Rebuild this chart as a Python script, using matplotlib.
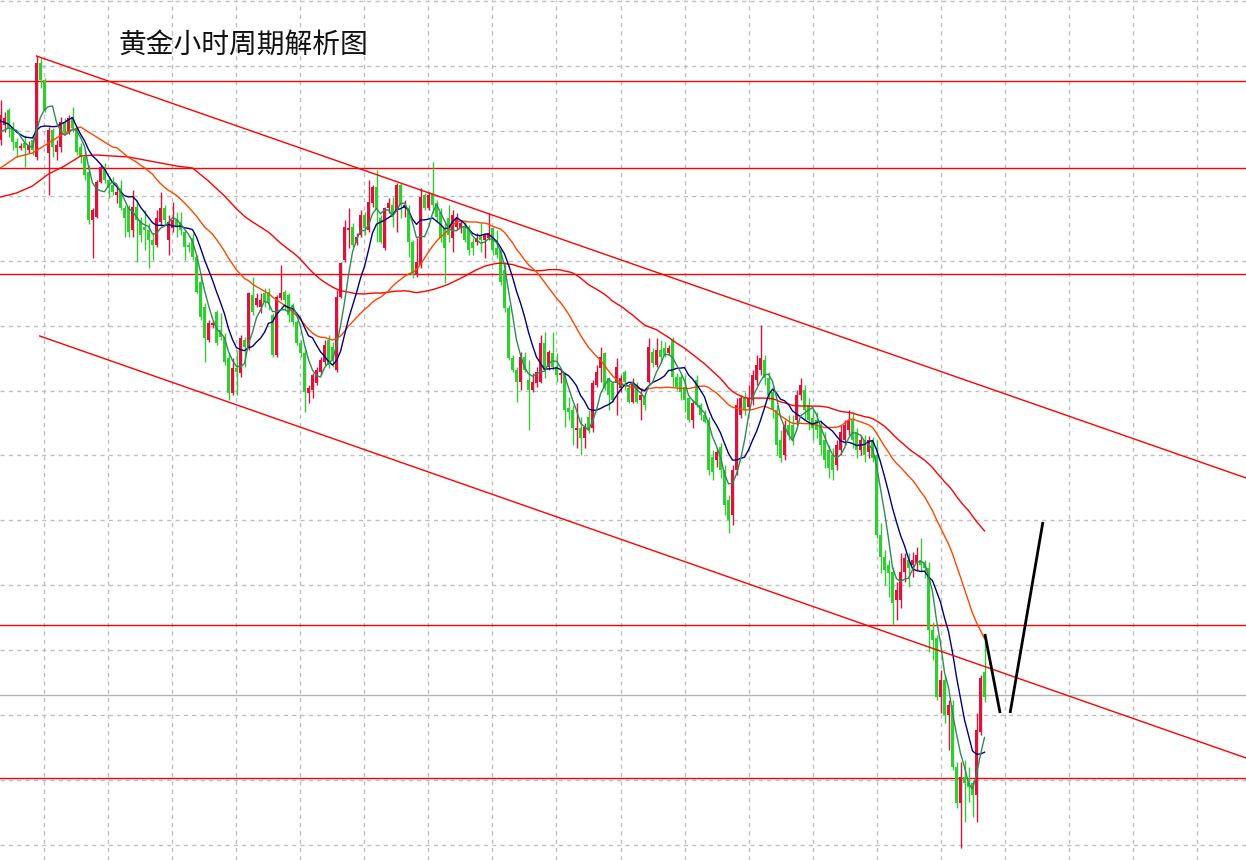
import numpy as np
import pandas as pd
import matplotlib
matplotlib.use("Agg")
import matplotlib.pyplot as plt

plt.rcParams['font.family'] = ['Noto Sans CJK SC', 'DejaVu Sans']

# ---------------- data (hourly gold candles) ----------------
opens = [
2686.0,2687.5,2689.0,2687.3,2685.8,2685.2,2685.7,2685.0,2686.0,2684.3,
2693.7,2692.0,2684.7,2687.0,2684.8,2685.3,2687.8,2686.8,2688.3,2687.2,
2685.3,2684.3,2682.8,2678.0,2678.3,2681.8,2683.3,2682.0,2681.5,2680.5,
2681.2,2679.2,2679.3,2677.0,2679.3,2678.0,2677.3,2677.0,2676.0,2675.5,
2677.8,2679.2,2676.0,2677.2,2678.0,2677.8,2676.8,2675.5,2676.2,2674.3,
2671.8,2669.3,2666.0,2667.5,2668.8,2667.0,2666.3,2664.2,2660.7,2663.2,
2662.7,2666.0,2665.3,2670.5,2669.5,2669.3,2670.7,2670.8,2668.5,2664.5,
2670.2,2670.8,2670.5,2669.2,2667.8,2665.7,2664.7,2660.7,2661.0,2661.7,
2662.8,2663.8,2666.0,2665.3,2663.0,2670.3,2674.0,2677.0,2677.3,2675.7,
2676.5,2678.5,2677.0,2679.7,2681.3,2678.2,2675.2,2679.2,2679.5,2678.8,
2681.5,2679.2,2679.2,2675.8,2672.5,2673.5,2680.5,2679.2,2680.7,2679.7,
2678.8,2677.2,2678.2,2676.2,2677.3,2677.2,2677.3,2677.3,2675.8,2675.8,
2676.5,2676.0,2676.2,2677.2,2675.2,2675.0,2673.0,2669.2,2664.2,2663.0,
2661.8,2664.3,2662.0,2661.0,2661.7,2661.8,2665.7,2663.3,2664.7,2663.3,
2662.5,2662.7,2659.2,2659.0,2657.0,2657.2,2656.2,2658.3,2657.2,2661.5,
2663.2,2664.7,2662.2,2661.7,2661.7,2661.2,2662.8,2661.2,2659.8,2661.5,
2660.0,2660.3,2661.8,2664.8,2663.5,2665.0,2665.2,2664.7,2666.0,2662.3,
2662.3,2661.3,2660.2,2658.0,2662.0,2659.5,2658.5,2658.0,2654.3,2654.0,
2655.3,2653.0,2650.0,2648.5,2653.0,2658.5,2660.2,2659.3,2660.0,2662.0,
2663.0,2664.0,2662.2,2660.8,2659.0,2656.0,2654.5,2657.5,2657.5,2658.0,
2660.5,2661.0,2659.5,2658.2,2658.0,2657.5,2656.0,2655.0,2654.5,2653.5,
2655.0,2656.0,2657.0,2658.0,2656.8,2655.0,2656.0,2654.8,2656.0,2654.5,
2646.5,2644.3,2643.5,2642.8,2640.0,2640.0,2642.8,2644.0,2643.5,2643.7,
2644.0,2643.7,2643.2,2637.0,2636.2,2630.3,2632.0,2628.5,2629.5,2623.3,
2619.7,2622.3,2621.8,2621.7,2620.5,2626.8,2632.8]
highs = [
2690.0,2688.8,2689.2,2687.8,2686.2,2685.7,2686.5,2685.9,2686.5,2694.4,
2694.2,2692.2,2687.3,2687.2,2686.0,2688.3,2688.2,2688.5,2689.3,2687.4,
2685.7,2685.0,2683.5,2679.2,2682.0,2683.5,2683.7,2682.4,2682.3,2681.3,
2682.0,2679.5,2679.5,2681.0,2680.0,2678.3,2679.0,2677.7,2676.7,2679.0,
2680.8,2679.5,2678.5,2679.8,2678.8,2678.8,2677.0,2675.8,2676.7,2674.5,
2672.5,2669.7,2668.0,2668.0,2669.0,2668.7,2666.7,2664.7,2664.2,2665.0,
2666.5,2666.3,2670.8,2672.3,2670.7,2670.7,2671.2,2671.2,2668.7,2670.5,
2673.5,2671.0,2670.7,2669.7,2668.0,2666.0,2665.3,2661.5,2662.7,2663.3,
2664.3,2666.0,2666.5,2665.8,2671.0,2673.8,2678.0,2679.2,2677.7,2676.7,
2679.0,2678.8,2682.0,2681.5,2683.0,2678.5,2679.3,2680.2,2680.3,2681.7,
2681.7,2680.0,2679.5,2676.0,2676.2,2681.2,2680.7,2680.8,2683.8,2680.0,
2679.2,2677.8,2679.5,2679.0,2678.7,2678.0,2677.8,2677.5,2676.2,2676.7,
2677.7,2676.7,2678.7,2677.3,2677.0,2675.2,2673.8,2669.5,2664.5,2663.3,
2664.8,2664.8,2664.0,2662.7,2663.3,2666.5,2666.8,2665.0,2666.8,2664.7,
2663.0,2662.8,2660.3,2659.5,2659.7,2658.3,2657.7,2659.0,2662.0,2663.5,
2665.3,2664.8,2662.3,2661.8,2664.2,2662.5,2663.0,2661.5,2662.2,2661.8,
2661.2,2660.7,2666.2,2665.2,2666.2,2666.0,2665.8,2665.5,2666.3,2662.7,
2662.5,2662.5,2660.3,2660.0,2662.5,2659.7,2659.0,2658.3,2655.0,2655.2,
2655.7,2653.5,2650.5,2653.5,2660.2,2660.5,2660.8,2661.5,2663.0,2664.5,
2667.5,2664.5,2662.8,2661.5,2659.5,2657.0,2658.0,2658.5,2658.5,2661.0,
2662.2,2661.5,2660.2,2659.0,2658.8,2658.0,2656.8,2655.5,2655.2,2656.0,
2657.5,2658.0,2659.0,2658.8,2657.2,2656.5,2656.5,2656.4,2656.3,2656.0,
2647.7,2645.0,2644.0,2643.3,2641.8,2644.7,2644.7,2644.7,2644.8,2645.3,
2646.2,2644.0,2643.8,2637.8,2636.5,2633.0,2632.5,2630.0,2630.0,2623.8,
2623.8,2624.0,2623.3,2622.0,2628.7,2632.5,2636.6]
lows = [
2685.5,2686.8,2686.3,2685.0,2684.3,2685.0,2683.3,2684.7,2684.5,2684.0,
2691.2,2688.8,2680.5,2684.3,2684.0,2684.8,2686.5,2686.6,2686.8,2684.5,
2683.7,2682.0,2677.6,2674.2,2678.2,2681.7,2681.7,2680.2,2680.5,2679.7,
2679.0,2676.3,2676.3,2676.3,2673.8,2675.8,2675.0,2673.2,2674.0,2675.3,
2677.4,2677.5,2674.5,2676.8,2676.3,2676.5,2674.0,2674.8,2674.0,2670.7,
2668.0,2663.8,2665.8,2667.2,2665.5,2666.0,2663.5,2660.0,2660.5,2660.5,
2662.3,2663.3,2665.0,2668.5,2669.3,2668.7,2669.3,2669.0,2664.3,2664.3,
2670.0,2669.0,2667.8,2667.5,2665.5,2664.3,2658.8,2659.7,2660.2,2661.5,
2662.5,2663.5,2663.2,2663.3,2662.8,2670.2,2673.8,2675.2,2675.3,2675.5,
2676.3,2676.5,2676.8,2679.3,2675.8,2675.7,2675.0,2678.7,2677.3,2676.8,
2678.2,2678.3,2674.3,2672.2,2672.3,2673.2,2679.0,2679.0,2678.7,2677.8,
2675.8,2671.7,2675.8,2674.8,2677.0,2676.7,2675.8,2674.5,2674.5,2675.5,
2674.8,2674.2,2676.0,2674.5,2674.2,2671.5,2668.8,2664.0,2662.8,2659.8,
2661.0,2662.8,2657.0,2660.8,2661.3,2661.7,2662.2,2663.0,2663.0,2661.8,
2661.7,2657.3,2658.0,2655.5,2655.2,2654.5,2655.2,2656.7,2656.8,2661.3,
2661.8,2661.0,2659.0,2659.8,2658.5,2660.8,2661.0,2659.7,2659.7,2659.7,
2658.0,2659.0,2661.7,2663.3,2663.3,2663.7,2664.3,2664.5,2661.3,2661.0,
2660.0,2658.8,2657.8,2657.2,2659.3,2658.0,2657.7,2652.5,2652.0,2653.3,
2652.2,2648.5,2646.7,2647.5,2652.5,2658.2,2658.5,2659.0,2659.5,2661.5,
2662.5,2661.5,2660.0,2658.2,2654.5,2653.8,2654.0,2656.0,2655.5,2657.5,
2660.0,2658.0,2657.0,2656.0,2656.2,2654.5,2653.2,2652.2,2652.0,2653.0,
2654.5,2655.5,2656.5,2655.2,2654.2,2654.5,2653.8,2654.2,2653.8,2646.2,
2642.7,2641.5,2640.3,2637.5,2638.0,2639.2,2641.8,2641.3,2642.3,2643.0,
2642.8,2642.2,2634.8,2634.0,2630.0,2628.7,2627.7,2625.0,2623.0,2619.2,
2615.2,2617.8,2619.8,2618.3,2617.8,2626.5,2629.8]
closes = [
2688.5,2688.2,2687.2,2685.8,2685.2,2685.4,2685.2,2685.5,2685.0,2693.7,
2692.0,2689.0,2687.0,2685.3,2685.5,2687.8,2686.8,2688.2,2687.2,2684.8,
2684.3,2682.5,2678.0,2679.0,2681.8,2683.3,2682.0,2681.2,2680.8,2680.8,
2679.2,2678.2,2676.8,2679.3,2678.0,2676.5,2677.0,2676.0,2675.5,2678.2,
2679.2,2678.0,2677.8,2678.0,2677.3,2677.0,2675.3,2675.3,2674.3,2670.8,
2668.3,2666.2,2667.7,2667.7,2665.7,2666.3,2663.8,2660.7,2663.2,2662.8,
2666.2,2665.3,2670.7,2668.8,2670.2,2670.0,2669.8,2669.7,2664.5,2670.3,
2670.7,2670.0,2668.5,2667.8,2665.7,2664.7,2660.8,2661.2,2662.5,2663.0,
2664.0,2665.5,2663.5,2664.0,2670.3,2673.7,2677.3,2677.2,2675.5,2676.3,
2678.5,2677.2,2679.8,2681.3,2679.0,2675.8,2679.2,2679.7,2678.3,2681.5,
2679.5,2679.5,2675.8,2672.5,2673.8,2680.3,2679.2,2680.5,2679.5,2678.3,
2676.2,2675.2,2676.5,2678.5,2678.2,2677.7,2676.0,2675.0,2675.2,2676.2,
2676.0,2676.5,2676.7,2675.0,2674.5,2671.8,2669.2,2664.2,2663.0,2661.8,
2664.3,2663.0,2661.0,2661.8,2662.8,2665.7,2663.0,2664.8,2663.3,2662.5,
2662.7,2659.0,2658.8,2657.2,2657.2,2656.2,2657.3,2657.0,2661.7,2662.8,
2664.3,2661.2,2660.5,2660.0,2663.3,2662.2,2661.8,2659.8,2661.7,2659.8,
2660.5,2659.5,2665.3,2663.7,2665.0,2664.3,2664.5,2665.2,2662.3,2661.3,
2660.8,2660.0,2658.0,2659.7,2659.5,2658.5,2657.8,2653.0,2652.8,2654.8,
2653.0,2649.5,2648.0,2653.0,2659.5,2660.2,2659.0,2660.2,2662.5,2663.5,
2664.2,2662.2,2660.5,2659.0,2655.5,2654.2,2657.5,2656.5,2656.0,2660.5,
2661.5,2659.0,2658.0,2657.2,2657.0,2655.5,2654.0,2653.2,2653.0,2655.5,
2656.8,2657.5,2658.0,2656.0,2655.0,2656.0,2654.5,2656.0,2654.2,2646.5,
2644.3,2643.0,2642.7,2639.7,2641.0,2642.8,2644.2,2643.2,2644.0,2644.5,
2643.5,2643.2,2637.0,2636.0,2630.3,2632.0,2628.5,2629.5,2623.3,2619.7,
2622.3,2621.7,2621.3,2620.5,2627.0,2632.2,2630.3]

# moving-average values read at the left edge, before each window is complete
ma5_head_idx, ma5_head = [0, 2], [2686.8, 2687.2]
ma10_head_idx, ma10_head = [0, 2, 4, 6, 8], [2687.9, 2687.6, 2686.8, 2686.3, 2686.2]
ma30_head_idx = [0, 4, 8, 12, 16, 20, 24, 28]
ma30_head = [2683.2, 2684.3, 2684.7, 2685.7, 2686.7, 2687.3, 2686.3, 2685.3]
ma60_head_idx = [0, 4, 8, 12, 16, 20, 24, 28, 32, 36, 40, 44, 48, 52, 56]
ma60_head = [2680.3, 2680.7, 2681.4, 2682.6, 2683.4, 2684.4, 2684.5, 2684.4,
             2684.3, 2684.0, 2683.7, 2683.4, 2683.2, 2681.9, 2680.4]

# support / resistance levels
red_levels = [2691.9, 2683.2, 2672.6, 2637.5, 2622.2]
gray_levels = [2630.5]

# channel lines (bar index, price)
chan_upper_x, chan_upper_y = [9.0, 311.4], [2694.4, 2652.2]
chan_lower_x, chan_lower_y = [9.8, 311.4], [2666.4, 2624.2]

# projected path (black)
proj1_x, proj1_y = [246.1, 249.9], [2636.6, 2628.7]
proj2_x, proj2_y = [252.4, 260.6], [2628.7, 2647.8]

title = "黄金小时周期解析图"

# ---------------- drawing ----------------
W, H = 1246, 860
fig = plt.figure(figsize=(W / 100, H / 100), dpi=100)
ax = fig.add_axes([0, 0, 1, 1])
ax.set_xlim(-0.125, 311.375)
ax.set_ylim(2614.0, 2700.0)

ax.set_xticks(10.875 + 16.015 * np.arange(19))
ax.set_yticks(2699.9 - 6.492 * np.arange(14))
ax.grid(True, color="#c0c0c0", linestyle=(0, (3, 3)), linewidth=1.0)
ax.tick_params(length=0, labelbottom=False, labelleft=False)
for s in ax.spines.values():
    s.set_visible(False)
ax.set_axisbelow(True)

o = np.array(opens); h = np.array(highs); l = np.array(lows); c = np.array(closes)
idx = np.arange(len(c))
up = c >= o
UP_COL, DN_COL = "#dc143c", "#32cd32"
cols = np.where(up, UP_COL, DN_COL)

for lv in red_levels:
    ax.axhline(lv, color="#ff0000", lw=1.0, zorder=1)
for lv in gray_levels:
    ax.axhline(lv, color="#b4b4b4", lw=1.0, zorder=1)

ax.vlines(idx, l, h, colors=cols, lw=1.0, zorder=3)
body_bottom = np.minimum(o, c)
body_h = np.maximum(np.abs(c - o), 0.12)
ax.bar(idx, body_h, bottom=body_bottom, width=0.66, color=cols, linewidth=0, zorder=4)

cs = pd.Series(c)
def ma_xy(n, hx, hy):
    roll = cs.rolling(n).mean()
    xs = list(hx) + list(range(n - 1, len(c)))
    ys = list(hy) + list(roll.iloc[n - 1:])
    return xs, ys

for n, hx, hy, col in [(60, ma60_head_idx, ma60_head, "#ff0000"),
                       (30, ma30_head_idx, ma30_head, "#ff4500"),
                       (10, ma10_head_idx, ma10_head, "#000080"),
                       (5, ma5_head_idx, ma5_head, "#2e8b57")]:
    xs, ys = ma_xy(n, hx, hy)
    ax.plot(xs, ys, color=col, lw=1.0, zorder=5)

ax.plot(chan_upper_x, chan_upper_y, color="#ff0000", lw=1.0, zorder=6)
ax.plot(chan_lower_x, chan_lower_y, color="#ff0000", lw=1.0, zorder=6)

ax.plot(proj1_x, proj1_y, color="#000000", lw=2.0, zorder=7, solid_capstyle="butt")
ax.plot(proj2_x, proj2_y, color="#000000", lw=2.0, zorder=7, solid_capstyle="butt")

ax.text(118 / W, 1 - 45 / H, title, transform=ax.transAxes, fontsize=20,
        color="#111111", ha="left", va="center", zorder=8)

fig.savefig("out.png", dpi=100, facecolor="white")
